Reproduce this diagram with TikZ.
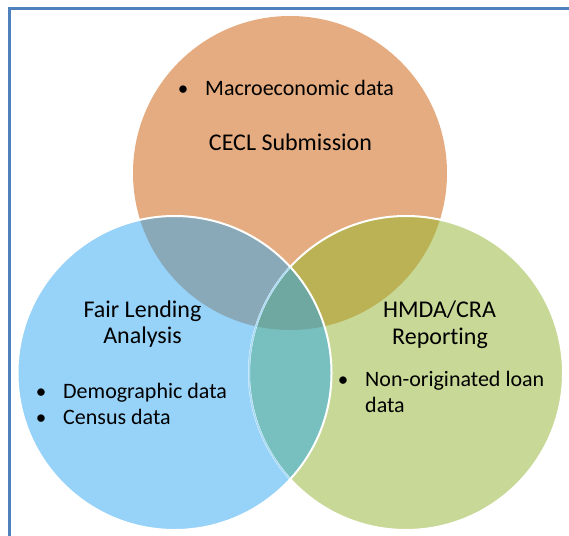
\documentclass[tikz,border=0pt]{standalone}
\usepackage{fontspec}
\setmainfont{Carlito}[Ligatures={NoCommon}]
\definecolor{cO}{HTML}{E4AC80}
\definecolor{cB}{HTML}{97D2F8}
\definecolor{cG}{HTML}{C8D896}
\definecolor{cOB}{HTML}{89A8B8}
\definecolor{cOG}{HTML}{BAB254}
\definecolor{cBG}{HTML}{78C0C0}
\definecolor{cOBG}{HTML}{6EA8A0}
\definecolor{cLine}{HTML}{A6DAF5}
\definecolor{cFrame}{HTML}{4F81BD}
\begin{document}
\begin{tikzpicture}[x=1pt,y=-1pt,
  title/.style={font=\fontsize{24}{28}\selectfont, text=black, inner sep=0pt, anchor=base},
  item/.style={font=\fontsize{22}{26}\selectfont, text=black, inner sep=0pt, anchor=base west},
  dot/.style={font=\fontsize{21}{25}\selectfont, text=black, inner sep=0pt, anchor=base}]
\useasboundingbox (0,0) rectangle (569,535);
\def\Oc{(290,173) circle (157pt)}
\def\Bc{(174.5,373) circle (157pt)}
\def\Gc{(406,373) circle (157pt)}
% base fills
\fill[cO] \Oc;
\fill[cG] \Gc;
\fill[cB] \Bc;
% overlaps
\begin{scope}\clip \Bc; \fill[cOB] \Oc; \end{scope}
\begin{scope}\clip \Gc; \fill[cOG] \Oc; \end{scope}
\begin{scope}\clip \Bc; \fill[cBG] \Gc; \end{scope}
\begin{scope}\clip \Bc; \clip \Gc; \fill[cOBG] \Oc; \end{scope}
% outlines
\draw[white, line width=2pt] \Gc;
\begin{scope}\clip \Bc; \draw[cLine, line width=1.5pt] \Gc; \end{scope}
\draw[white, line width=2pt] \Bc;
% frame
\draw[cFrame, line width=2.5pt] (9.5,540) -- (9.5,8.7) -- (575,8.7);
% texts
\node[dot] (d1) at (183,95) {•};
\node[item] (t1) at (205,95) {Macroeconomic data};
\node[title] (cecl) at (290.5,150) {CECL Submission};
\node[title] (fl1) at (142.5,317) {Fair Lending};
\node[title] (fl2) at (142.5,343) {Analysis};
\node[dot] (d2) at (41,398) {•};
\node[item] (t2) at (63,398) {Demographic data};
\node[dot] (d3) at (41,424) {•};
\node[item] (t3) at (63,424) {Census data};
\node[title] (hm1) at (439.5,317) {HMDA/CRA};
\node[title] (hm2) at (440,344) {Reporting};
\node[dot] (d4) at (343,386) {•};
\node[item] (t4) at (365,386) {Non-originated loan};
\node[item] (t5) at (365,412) {data};
\end{tikzpicture}
\end{document}
